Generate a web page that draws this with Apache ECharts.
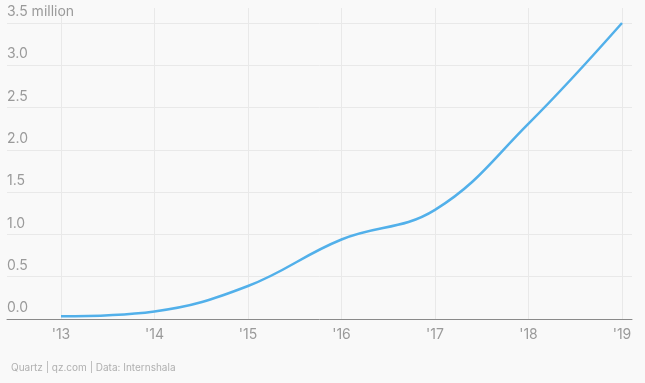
<!DOCTYPE html>
<html>
<head>
<meta charset="utf-8">
<script src="https://cdn.jsdelivr.net/npm/echarts@6/dist/echarts.min.js"></script>
<style>
html,body{margin:0;padding:0;background:#f9f9f9;}
#c{width:645px;height:383px;}
</style>
</head>
<body>
<div id="c"></div>
<script>
const years = ["'13", "'14", "'15", "'16", "'17", "'18", "'19"];
const users = [0.033, 0.09, 0.39, 0.94, 1.29, 2.31, 3.5];
const yTicks = [0, 0.5, 1.0, 1.5, 2.0, 2.5, 3.0, 3.5];
const source = "Quartz | qz.com | Data: Internshala";

const font = "Inter, 'Noto Sans', sans-serif";
const chart = echarts.init(document.getElementById('c'));
chart.setOption({
  backgroundColor: '#f9f9f9',
  animation: false,
  textStyle: {fontFamily: font},
  title: {
    text: source, left: 6, top: 358,
    textStyle: {fontSize: 10, fontWeight: 'normal', color: '#b0b0b0', fontFamily: font}
  },
  grid: [
    {left: 7, right: 13, top: 23, bottom: 64},
    {left: 61, right: 23, top: 23, bottom: 64},
    {left: 61, right: 23, top: 8, bottom: 64}
  ],
  xAxis: [
    {gridIndex: 0, type: 'value', min: 0, max: 1, show: true,
     axisLine: {show: true, onZero: false, lineStyle: {color: '#8a8a8a', width: 1}},
     axisTick: {show: false}, axisLabel: {show: false}, splitLine: {show: false}},
    {gridIndex: 1, type: 'category', data: years, boundaryGap: false,
     axisLine: {show: false}, axisTick: {show: false},
     axisLabel: {color: '#9a9a9a', fontSize: 14, margin: 9, fontFamily: font},
     splitLine: {show: false}},
    {gridIndex: 2, type: 'category', data: years, boundaryGap: false,
     axisLine: {show: false}, axisTick: {show: false}, axisLabel: {show: false},
     splitLine: {show: true, lineStyle: {color: '#e9e9e9', width: 1}}}
  ],
  yAxis: [
    {gridIndex: 0, type: 'value', min: 0, max: 3.5, interval: 0.5,
     axisLine: {show: false}, axisTick: {show: false},
     splitLine: {show: true, lineStyle: {color: '#e9e9e9', width: 1}},
     axisLabel: {inside: true, margin: 0, verticalAlign: 'bottom', padding: [0, 0, 4, 0],
       color: '#9a9a9a', fontSize: 14, fontFamily: font,
       formatter: function (v) {
         const i = yTicks.indexOf(v);
         const t = v.toFixed(1);
         return i === yTicks.length - 1 ? t + ' million' : t;
       }}},
    {gridIndex: 1, type: 'value', min: 0, max: 3.5, show: false},
    {gridIndex: 2, type: 'value', min: 0, max: 1, show: false}
  ],
  series: [{
    type: 'line', xAxisIndex: 1, yAxisIndex: 1, data: users,
    smooth: 0.4, showSymbol: false, symbol: 'none',
    lineStyle: {color: '#52b0ea', width: 2.5}
  }]
});
</script>
</body>
</html>
